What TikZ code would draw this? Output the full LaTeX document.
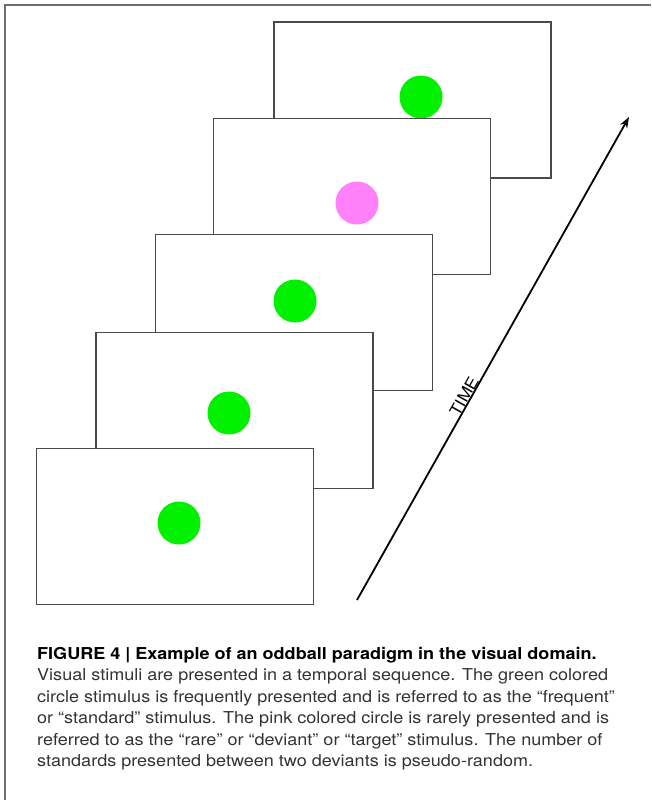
\documentclass[tikz,border=0pt]{standalone}
\usepackage{fontspec}
\setmainfont{TeX Gyre Heros}[FakeStretch = 1.1]
\usetikzlibrary{arrows.meta}
\definecolor{framegray}{HTML}{6E6E6E}
\definecolor{screengray}{HTML}{4A4A4A}
\definecolor{stdgreen}{HTML}{00F000}
\definecolor{devpink}{HTML}{FF80F8}
\definecolor{captext}{HTML}{333333}
\tikzset{
    screen/.style = {draw = screengray, line width = 1.5pt, fill = white,
        minimum width = 277pt, minimum height = 156pt, inner sep = 0pt},
    dot/.style = {circle, minimum size = 43pt, inner sep = 0pt},
}
\begin{document}
\begin{tikzpicture}[x = 1pt, y = -1pt]
        \useasboundingbox (0,0) rectangle (651,800);
        % outer frame (only top and left are seen)
        \draw[framegray, line width = 1.6pt] (5,800) -- (5,5) -- (651,5);
        % screens, back to front
        \node[screen] (scr1) at (412.5,100) {};
        \node[dot, fill = stdgreen] (stim1) at (421,97) {};
        \node[screen] (scr2) at (352,196.5) {};
        \node[dot, fill = devpink] (stim2) at (357,203) {};
        \node[screen] (scr3) at (294,312.5) {};
        \node[dot, fill = stdgreen] (stim3) at (295,301) {};
        \node[screen] (scr4) at (234.5,410.5) {};
        \node[dot, fill = stdgreen] (stim4) at (229,413) {};
        \node[screen] (scr5) at (175,526.5) {};
        \node[dot, fill = stdgreen] (stim5) at (179,523) {};
        % time arrow
        \coordinate (tstart) at (357,600);
        \coordinate (tend) at (629,117);
        \draw[line width = 1.8pt, -{Stealth[length = 11pt, width = 8pt]}] (tstart) -- (tend)
            node[pos = 0.415, sloped, above, inner sep = 0pt, font = \fontsize{16}{16}\selectfont] (tlabel) {TIME};
        % caption
        \node[anchor = north west, align = left, inner sep = 0pt, text = captext,
              font = \fontsize{16.4}{21.5}\selectfont] (caption) at (37,647)
            {{\bfseries\color{black}FIGURE 4 | Example of an oddball paradigm in the visual domain.}\\
             Visual stimuli are presented in a temporal sequence. The green colored\\
             circle stimulus is frequently presented and is referred to as the ``frequent''\\
             or ``standard'' stimulus. The pink colored circle is rarely presented and is\\
             referred to as the ``rare'' or ``deviant'' or ``target'' stimulus. The number of\\
             standards presented between two deviants is pseudo-random.};
    \end{tikzpicture}
\end{document}
